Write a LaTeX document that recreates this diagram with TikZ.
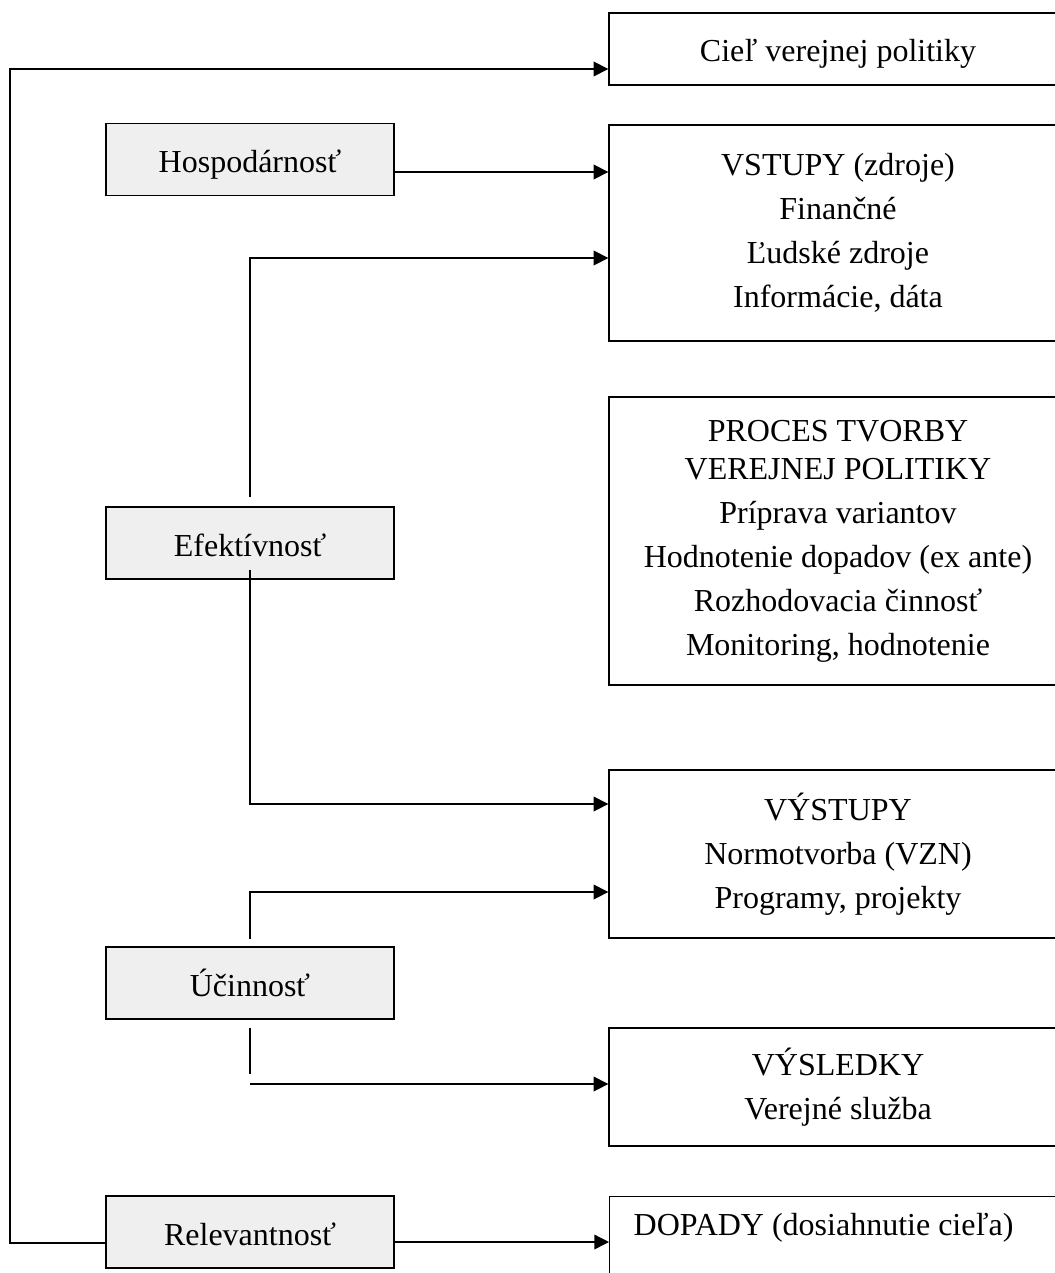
\documentclass[tikz,border=0pt]{standalone}
\usepackage{fontspec}
\setmainfont{Liberation Serif}
\usetikzlibrary{arrows.meta}
\definecolor{boxgray}{HTML}{EFEFEF}
\tikzset{
  every node/.style={font=\fontsize{24pt}{28.5pt}\selectfont},
  rbox/.style={draw, line width=1pt, inner sep=0pt, minimum width=343.5pt, align=center},
  lbox/.style={draw, line width=1pt, fill=boxgray, inner sep=0pt, minimum width=216pt, minimum height=54pt,
               text height=22pt, text depth=2pt},
  conn/.style={line width=1pt},
  arr/.style={conn, -{Triangle[length=11pt,width=11pt]}}
}
\begin{document}
\begin{tikzpicture}[x=0.75pt, y=-0.75pt]
\clip (0,0) rectangle (1055,1273);
\fill[white] (0,0) rectangle (1055,1273);
% right boxes
\node[rbox, minimum height=54pt, text height=21.5pt, text depth=2.5pt] (cil) at (838,49) {Cieľ verejnej politiky};
\node[rbox, minimum height=162pt] (vstupy) at (838,233) {VSTUPY (zdroje)\\[4.5pt] Finančné\\[4.5pt] Ľudské zdroje\\[4.5pt] Informácie, dáta};
\node[rbox, minimum height=216pt] (proces) at (838,541) {PROCES TVORBY\\ VEREJNEJ POLITIKY\\[4.5pt] Príprava variantov\\[4.5pt] Hodnotenie dopadov (ex ante)\\[4.5pt] Rozhodovacia činnosť\\[4.5pt] Monitoring, hodnotenie};
\node[rbox, minimum height=126pt] (vystupy) at (838,854) {VÝSTUPY\\[4.5pt] Normotvorba (VZN)\\[4.5pt] Programy, projekty};
\node[rbox, minimum height=88.5pt] (vysledky) at (838,1087) {VÝSLEDKY\\[4.5pt] Verejné služba};
\node[draw, line width=1pt, inner ysep=0pt, inner xsep=18pt,
      text height=29.25pt, text depth=45pt, anchor=north west] (dopady) at (609,1196) {\makebox[307.5pt][l]{DOPADY (dosiahnutie cieľa)}};
% left boxes
\node[lbox] (hosp) at (250,159.5) {Hospodárnosť};
\node[lbox] (efekt) at (250,543) {Efektívnosť};
\node[lbox] (ucin) at (250,983) {Účinnosť};
\node[lbox] (relev) at (250,1232) {Relevantnosť};
% connectors
\coordinate (frameBL) at (10,1243);
\coordinate (frameTL) at (10,69);
\draw[arr] (relev.west |- frameBL) -- (frameBL) -- (frameTL) -- (cil.west |- frameTL);
\draw[arr] (relev.east |- 0,1242) -- (dopady.west |- 0,1242);
\draw[arr] (hosp.east |- 0,172) -- (vstupy.west |- 0,172);
\draw[arr] ([yshift=6.75pt]efekt.north) |- (vstupy.west |- 0,258);
\draw[arr] ([yshift=7.5pt]efekt.south) |- (vystupy.west |- 0,804);
\draw[arr] ([yshift=5.25pt]ucin.north) |- (vystupy.west |- 0,892);
\draw[conn] ([yshift=-6pt]ucin.south) -- (ucin.south |- 0,1074);
\draw[arr] (ucin.south |- 0,1084) -- (vysledky.west |- 0,1084);
\end{tikzpicture}
\end{document}
